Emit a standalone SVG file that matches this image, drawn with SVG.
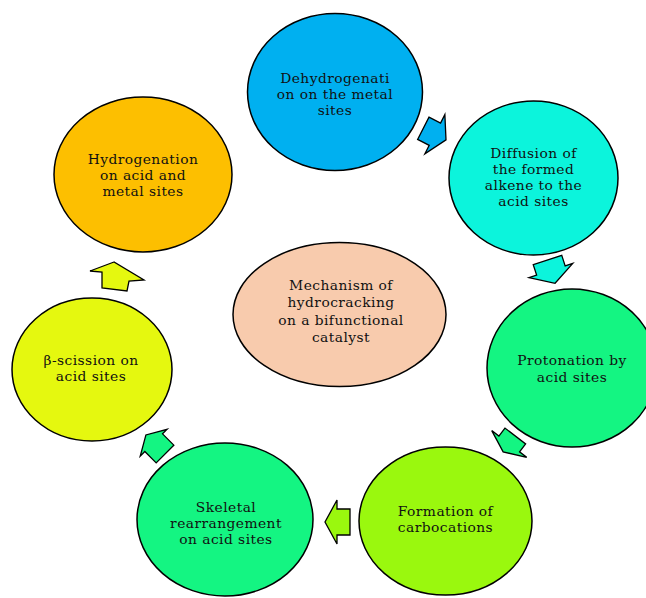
<svg xmlns="http://www.w3.org/2000/svg" width="646" height="598" viewBox="0 0 646 598">
<style>
.n{stroke:#000;stroke-width:1.5}
.a{stroke:#000;stroke-width:1.3;stroke-linejoin:miter}
text{font-family:"DejaVu Serif","Liberation Serif",serif;font-size:13.8px;letter-spacing:0.45px;fill:#111;text-anchor:middle}
</style>
<rect width="646" height="598" fill="#fff"/>
<g id="node-dehydrogenation">
<ellipse class="n" cx="335" cy="92" rx="87.5" ry="78.5" fill="#00B0F0"/>
<text x="335" y="82.5">Dehydrogenati</text>
<text x="335" y="98.5">on on the metal</text>
<text x="335" y="114.5">sites</text>
</g>
<g id="node-diffusion">
<ellipse class="n" cx="533.5" cy="178" rx="84.5" ry="77" fill="#0CF4DC"/>
<text x="533.5" y="157.5">Diffusion of</text>
<text x="533.5" y="173.5">the formed</text>
<text x="533.5" y="189.5">alkene to the</text>
<text x="533.5" y="205.5">acid sites</text>
</g>
<g id="node-protonation">
<ellipse class="n" cx="572" cy="368" rx="85" ry="79" fill="#14F582"/>
<text x="572" y="365">Protonation by</text>
<text x="572" y="381.5">acid sites</text>
</g>
<g id="node-carbocations">
<ellipse class="n" cx="445.5" cy="521" rx="86.5" ry="74" fill="#9AF80E"/>
<text x="445.5" y="516">Formation of</text>
<text x="445.5" y="532">carbocations</text>
</g>
<g id="node-skeletal">
<ellipse class="n" cx="225" cy="519.5" rx="88" ry="76.5" fill="#14F582"/>
<text x="226" y="511.5">Skeletal</text>
<text x="226" y="527.5">rearrangement</text>
<text x="226" y="543.5">on acid sites</text>
</g>
<g id="node-bscission">
<ellipse class="n" cx="92" cy="369.5" rx="80" ry="71.5" fill="#E5F80F"/>
<text x="91" y="365">β-scission on</text>
<text x="91" y="381">acid sites</text>
</g>
<g id="node-hydrogenation">
<ellipse class="n" cx="143" cy="174.5" rx="89" ry="77.5" fill="#FDBF00"/>
<text x="143" y="163.5">Hydrogenation</text>
<text x="143" y="179.5">on acid and</text>
<text x="143" y="195.5">metal sites</text>
</g>
<g id="node-center">
<ellipse class="n" cx="339.5" cy="314.5" rx="106.5" ry="72" fill="#F8CBAD"/>
<text x="341" y="289.5">Mechanism of</text>
<text x="341" y="307">hydrocracking</text>
<text x="341" y="324.5">on a bifunctional</text>
<text x="341" y="342">catalyst</text>
</g>
<g id="connectors">
<polygon class="a" fill="#00B0F0" transform="translate(423.3,128.3) rotate(27)" points="0,-12.5 13,-12.5 13,-22 25.5,0 13,22 13,12.5 0,12.5"/>
<polygon class="a" fill="#0CF4DC" transform="translate(547.5,260) rotate(72)" points="0,-15 11,-15 11,-23 24.5,0 11,23 11,15 0,15"/>
<polygon class="a" fill="#14F582" transform="translate(515.3,436) rotate(127.4)" points="0,-13 10,-13 10,-22 20,0 10,22 10,13 0,13"/>
<polygon class="a" fill="#9AF80E" transform="translate(350,522) rotate(180)" points="0,-13 13,-13 13,-22 25,0 13,22 13,13 0,13"/>
<polygon class="a" fill="#14F582" transform="translate(165,454) rotate(-135)" points="0,-12.5 16,-12.5 16,-19 27,0 16,19 16,12.5 0,12.5"/>
<polygon class="a" fill="#E5F80F" points="114,262 90,271 102,272 102,288 127,291 129,281 144,280"/>
</g>
</svg>
